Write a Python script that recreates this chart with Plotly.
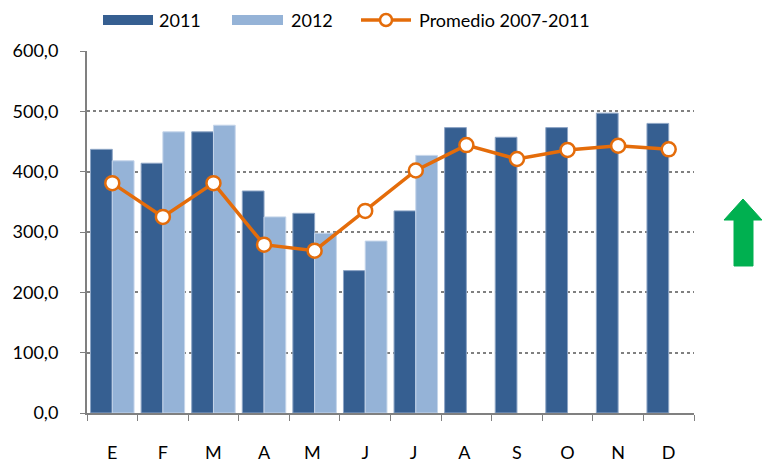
import plotly.graph_objects as go

months = ["E", "F", "M", "A", "M ", "J", "J ", "A ", "S", "O", "N", "D"]
v2011 = [437, 414, 466, 368, 331, 236, 335, 473, 457, 473, 497, 480]
v2012 = [418, 466, 477, 325, 298, 285, 427, None, None, None, None, None]
prom = [381, 325, 381, 279, 269, 335, 402, 444, 421, 436, 443, 437]
legend_names = ["2011", "2012", "Promedio 2007-2011"]

FONT = "Lato, 'Liberation Sans', sans-serif"
DARK, LIGHT, ORANGE = "#365F91", "#95B3D7", "#E46C0A"

W, H = 763, 462
L, R, T, B = 87, 69, 51, 49
PW, PH = W - L - R, H - T - B


def px(x):
    return (x - L) / PW


def py(y):
    return (H - B - y) / PH


fig = go.Figure()
fig.add_trace(go.Bar(x=months, y=v2011, name=legend_names[0],
                     marker=dict(color=DARK, line=dict(color="#8EA6C6", width=1))))
fig.add_trace(go.Bar(x=months, y=v2012, name=legend_names[1],
                     marker=dict(color=LIGHT, line=dict(color="#C5D5EA", width=1))))
fig.add_trace(go.Scatter(x=months, y=prom, name=legend_names[2], mode="lines+markers",
                         line=dict(color=ORANGE, width=3.5),
                         marker=dict(color="white", size=14, line=dict(color=ORANGE, width=2.5))))

fig.update_layout(
    width=W, height=H,
    margin=dict(l=L, r=R, t=T, b=B, autoexpand=False),
    paper_bgcolor="white", plot_bgcolor="white",
    barmode="group", bargap=0.14, bargroupgap=0,
    font=dict(family=FONT, size=18, color="#000000"),
    separators=",.",
    showlegend=False,
)
fig.update_xaxes(
    type="category", range=[-0.5, len(months) - 0.5],
    tickson="boundaries", ticks="outside", ticklen=6, tickcolor="#808080",
    showline=True, linecolor="#808080", linewidth=1.5, showgrid=False, automargin=False,
    tickfont=dict(size=18), ticklabelstandoff=23,
)
fig.update_yaxes(
    range=[0, 600], dtick=100, tickformat=".1f", ticks="outside", ticklen=5, tickcolor="#808080",
    showline=True, linecolor="#808080", linewidth=2, showgrid=True, gridcolor="#808080",
    griddash="dot", gridwidth=1.5, zeroline=False, automargin=False,
    tickfont=dict(size=18), ticklabelstandoff=18,
)

# custom legend (wide swatches as in the reference)
ly = 20
fig.add_shape(type="rect", xref="paper", yref="paper", x0=px(103), x1=px(153), y0=py(ly + 5), y1=py(ly - 5),
              fillcolor=DARK, line=dict(width=0))
fig.add_shape(type="rect", xref="paper", yref="paper", x0=px(232), x1=px(283), y0=py(ly + 5), y1=py(ly - 5),
              fillcolor=LIGHT, line=dict(width=0))
fig.add_shape(type="line", xref="paper", yref="paper", x0=px(361), x1=px(411), y0=py(ly), y1=py(ly),
              line=dict(color=ORANGE, width=3.5))
fig.add_shape(type="circle", xref="paper", yref="paper", x0=px(380), x1=px(392), y0=py(ly + 6), y1=py(ly - 6),
              fillcolor="white", line=dict(color=ORANGE, width=2.5))
for xt, txt in zip([157, 289, 417], legend_names):
    fig.add_annotation(x=px(xt), y=py(ly), xref="paper", yref="paper", text=txt, showarrow=False,
                       xanchor="left", yanchor="middle", font=dict(size=18))

# green arrow indicator
arrow = [(743, 199), (762, 220), (753, 220), (753, 266), (734, 266), (734, 220), (724, 220)]
path = "M " + " L ".join(f"{px(a):.4f},{py(b):.4f}" for a, b in arrow) + " Z"
fig.add_shape(type="path", xref="paper", yref="paper", path=path,
              fillcolor="#00B050", line=dict(color="#00B050", width=1))

fig.write_html("out.html", config={"displayModeBar": False},
               post_script="document.body.style.margin='0px';")
